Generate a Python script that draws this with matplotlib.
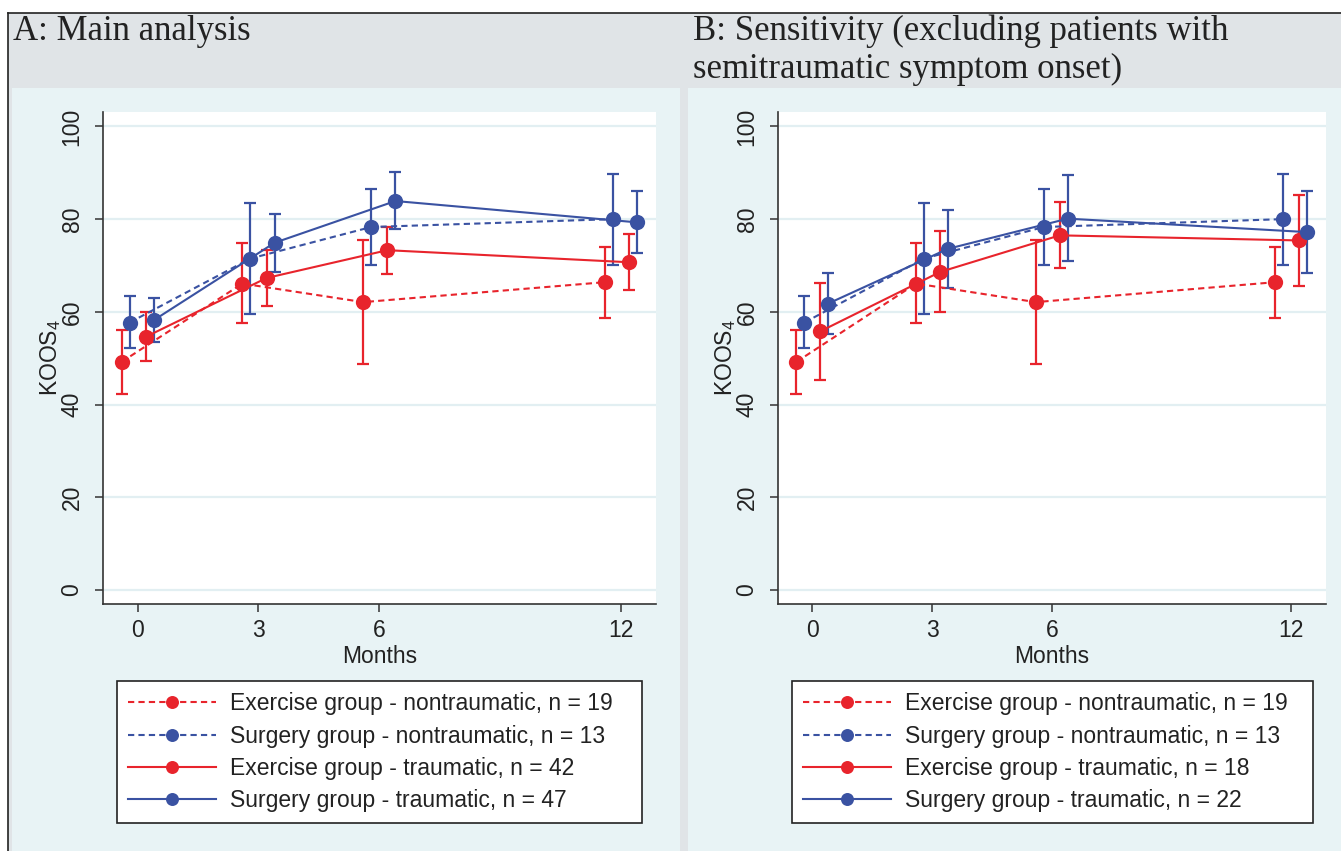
import matplotlib
matplotlib.use("Agg")
import matplotlib.pyplot as plt
from matplotlib.patches import Rectangle
from matplotlib.lines import Line2D

# ---- data (KOOS4 means with 95% CI) ----
months = [0, 3, 6, 12]

exer_nontrauma_mean = [49.2, 66.1, 62.1, 66.4]
exer_nontrauma_lo = [42.3, 57.5, 48.8, 58.7]
exer_nontrauma_hi = [56.1, 74.9, 75.4, 74.0]

surg_nontrauma_mean = [57.7, 71.5, 78.3, 80.0]
surg_nontrauma_lo = [52.1, 59.5, 70.0, 70.2]
surg_nontrauma_hi = [63.5, 83.5, 86.6, 89.8]

# panel A: main analysis
a_exer_trauma_mean = [54.6, 67.3, 73.3, 70.7]
a_exer_trauma_lo = [49.4, 61.3, 68.2, 64.8]
a_exer_trauma_hi = [59.9, 73.3, 78.3, 76.7]

a_surg_trauma_mean = [58.2, 74.9, 83.9, 79.3]
a_surg_trauma_lo = [53.4, 68.7, 77.8, 72.6]
a_surg_trauma_hi = [63.0, 81.1, 90.1, 86.0]

# panel B: sensitivity
b_exer_trauma_mean = [55.8, 68.6, 76.5, 75.4]
b_exer_trauma_lo = [45.4, 59.9, 69.4, 65.6]
b_exer_trauma_hi = [66.2, 77.4, 83.7, 85.3]

b_surg_trauma_mean = [61.8, 73.6, 80.1, 77.2]
b_surg_trauma_lo = [55.2, 65.2, 71.0, 68.3]
b_surg_trauma_hi = [68.3, 81.9, 89.6, 86.0]

labels_a = ["Exercise group - nontraumatic, n = 19",
            "Surgery group - nontraumatic, n = 13",
            "Exercise group - traumatic, n = 42",
            "Surgery group - traumatic, n = 47"]
labels_b = ["Exercise group - nontraumatic, n = 19",
            "Surgery group - nontraumatic, n = 13",
            "Exercise group - traumatic, n = 18",
            "Surgery group - traumatic, n = 22"]

# ---- style ----
RED = "#e8242c"
BLUE = "#3a52a2"
PANEL_BG = "#e8f3f5"
TITLE_BG = "#e0e4e7"
GRID = "#e2eff2"
offsets = [-0.4, -0.2, 0.2, 0.4]
styles = [(RED, (0, (3, 2))), (BLUE, (0, (3, 2))), (RED, "-"), (BLUE, "-")]

plt.rcParams["font.family"] = ["Liberation Sans", "DejaVu Sans"]
plt.rcParams["mathtext.fontset"] = "custom"
plt.rcParams["mathtext.rm"] = "Liberation Sans"

W, H = 1341, 851
fig = plt.figure(figsize=(W / 100, H / 100), dpi=100)


def fx(px):
    return px / W


def fy(py):
    return 1 - py / H


def rect(x0, y0, x1, y1, color):
    fig.add_artist(Rectangle((fx(x0), fy(y1)), fx(x1 - x0), (y1 - y0) / H,
                             transform=fig.transFigure, facecolor=color,
                             edgecolor="none", zorder=-10))


# backgrounds
rect(8, 13, W, H, TITLE_BG)
rect(12, 88, 680, H, PANEL_BG)
rect(688, 88, W, H, PANEL_BG)
fig.add_artist(Line2D([fx(8), 1], [fy(13), fy(13)], transform=fig.transFigure, color="#222222", lw=1.2))
fig.add_artist(Line2D([fx(8), fx(8)], [fy(13), 0], transform=fig.transFigure, color="#222222", lw=1.2))

title_kw = dict(family="Liberation Serif", fontsize=25, va="center", ha="left", color="#222222")
fig.text(fx(13), fy(31), "A: Main analysis", **title_kw)
fig.text(fx(693), fy(31), "B: Sensitivity (excluding patients with", **title_kw)
fig.text(fx(693), fy(69), "semitraumatic symptom onset)", **title_kw)


def panel(ax_px, legend_px, series, labels):
    x0, x1 = ax_px
    ax = fig.add_axes([fx(x0), fy(604), fx(x1 - x0), (604 - 112) / H])
    ax.set_facecolor("white")
    handles = []
    for (mean, lo, hi), (col, ls), off, lab in zip(series, styles, offsets, labels):
        xs = [m + off for m in months]
        err = [[m - l for m, l in zip(mean, lo)], [h - m for m, h in zip(mean, hi)]]
        ax.errorbar(xs, mean, yerr=err, fmt="none", ecolor=col, elinewidth=1.6,
                    capsize=4.5, capthick=1.6, zorder=3)
        h, = ax.plot(xs, mean, color=col, linestyle=ls, lw=1.5, marker="o",
                     markersize=11, markeredgewidth=0, label=lab, zorder=4)
        handles.append(h)
    ax.set_xlim(-0.86, 12.87)
    ax.set_ylim(-3, 103.1)
    ax.set_xticks(months)
    ax.set_yticks([0, 20, 40, 60, 80, 100])
    ax.grid(axis="y", color=GRID, lw=1.6)
    ax.set_axisbelow(True)
    for s in ["top", "right"]:
        ax.spines[s].set_visible(False)
    for s in ["left", "bottom"]:
        ax.spines[s].set_color("#333333")
        ax.spines[s].set_linewidth(1.2)
    ax.tick_params(length=6, width=1.1, color="#333333", labelsize=16.5, labelcolor="#222222")
    ax.tick_params(axis="x", pad=5)
    ax.tick_params(axis="y", pad=8)
    for t in ax.get_yticklabels():
        t.set_rotation(90)
        t.set_va("center")
    ax.set_xlabel("Months", fontsize=16.5, labelpad=2, color="#222222")
    ax.set_ylabel(r"KOOS$_\mathregular{4}$", fontsize=16.5, labelpad=-2, color="#222222")

    lx0, lx1 = legend_px
    leg = ax.legend(handles=handles, loc="upper left",
                    bbox_to_anchor=(fx(lx0), fy(681), fx(lx1 - lx0), 0),
                    bbox_transform=fig.transFigure, mode="expand",
                    fontsize=16.5, frameon=True, fancybox=False, framealpha=1,
                    edgecolor="#222222", handlelength=3.8, handletextpad=0.62,
                    labelspacing=0.4, borderpad=0.5, borderaxespad=0,
                    markerscale=0.85)
    leg.get_frame().set_linewidth(1.2)
    for t in leg.get_texts():
        t.set_color("#222222")
    return ax


series_a = [(exer_nontrauma_mean, exer_nontrauma_lo, exer_nontrauma_hi),
            (surg_nontrauma_mean, surg_nontrauma_lo, surg_nontrauma_hi),
            (a_exer_trauma_mean, a_exer_trauma_lo, a_exer_trauma_hi),
            (a_surg_trauma_mean, a_surg_trauma_lo, a_surg_trauma_hi)]
series_b = [(exer_nontrauma_mean, exer_nontrauma_lo, exer_nontrauma_hi),
            (surg_nontrauma_mean, surg_nontrauma_lo, surg_nontrauma_hi),
            (b_exer_trauma_mean, b_exer_trauma_lo, b_exer_trauma_hi),
            (b_surg_trauma_mean, b_surg_trauma_lo, b_surg_trauma_hi)]

panel((103, 656), (117, 642), series_a, labels_a)
panel((778, 1326), (792, 1313), series_b, labels_b)

fig.savefig("out.png", dpi=100)
